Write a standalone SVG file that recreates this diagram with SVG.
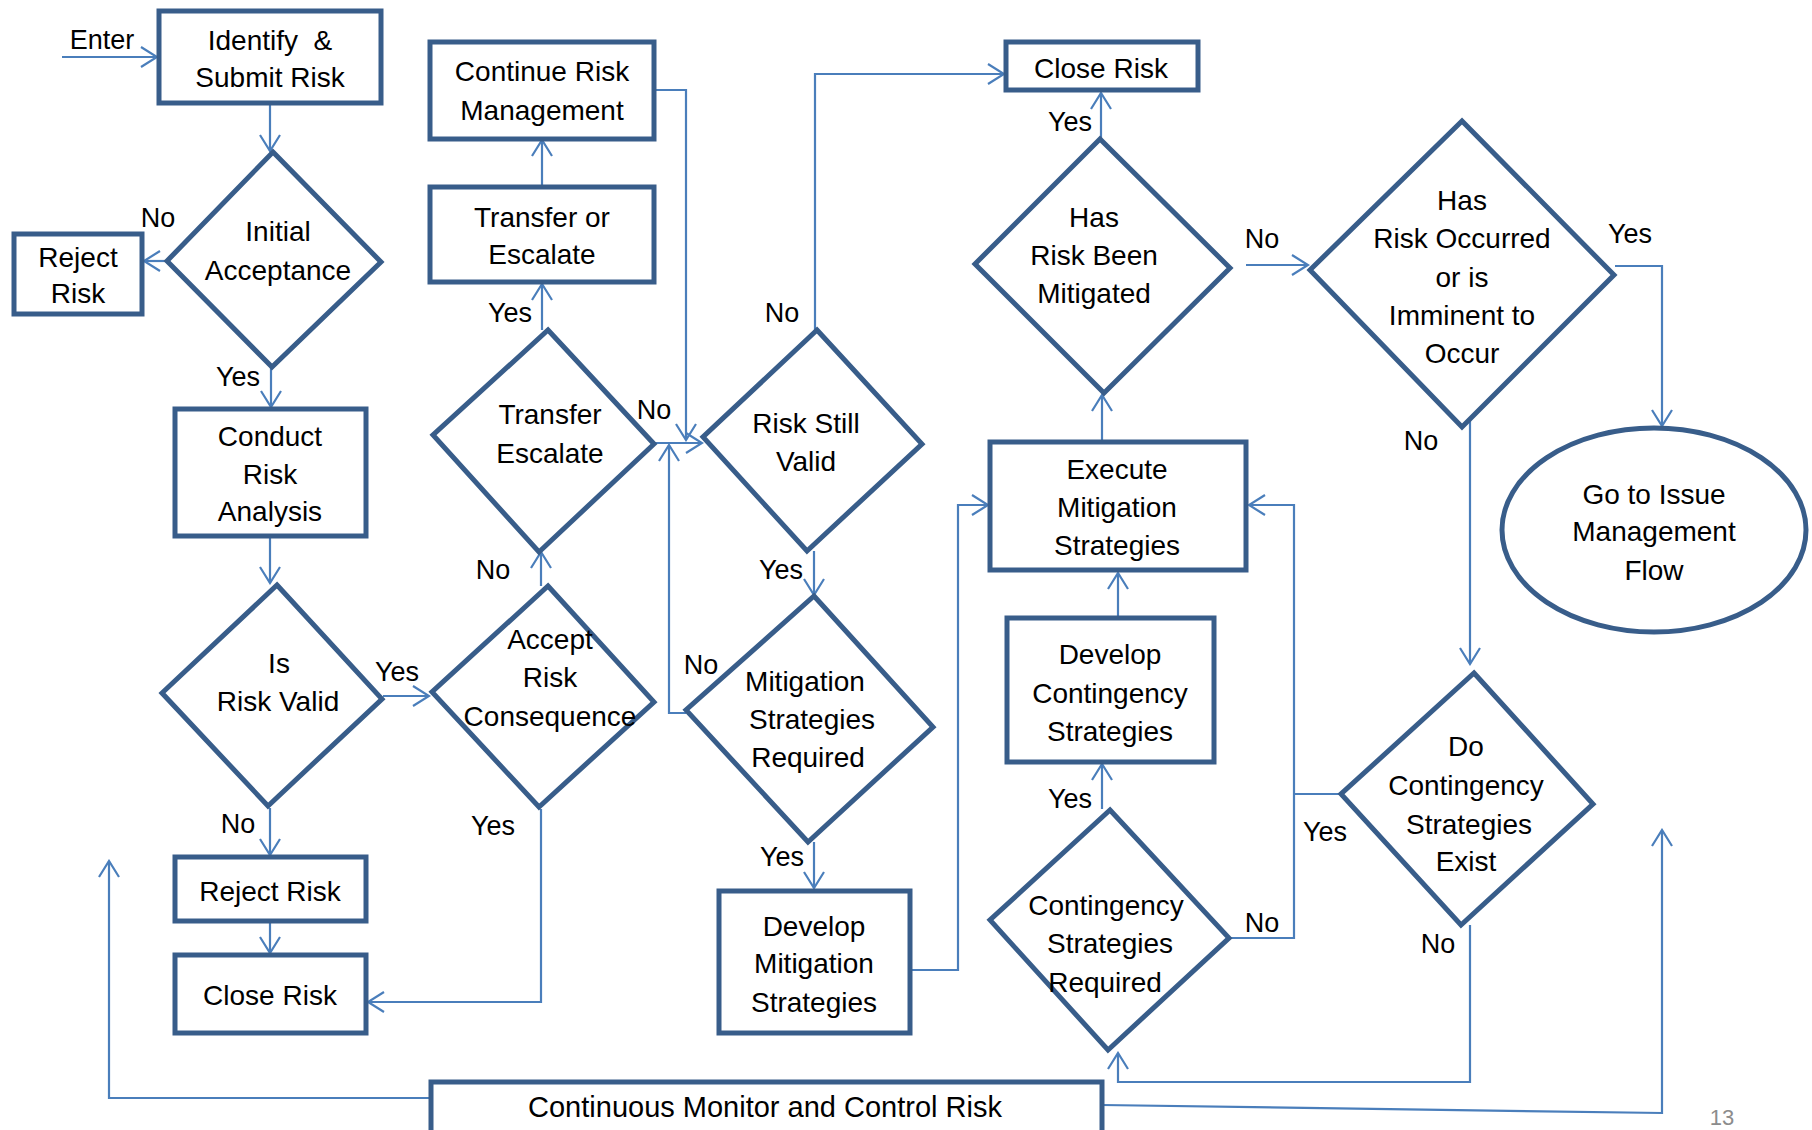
<svg xmlns="http://www.w3.org/2000/svg" width="1812" height="1130" viewBox="0 0 1812 1130">
<style>
.n{fill:#fff;stroke:#385D8A;stroke-width:5;stroke-linejoin:miter}
.t{font-family:"Liberation Sans",Arial,sans-serif;font-size:28px;fill:#000;text-anchor:middle}
.c{fill:none;stroke:#4A7EBB;stroke-width:2.2}
.l{font-family:"Liberation Sans",Arial,sans-serif;font-size:27px;fill:#000;text-anchor:middle}
</style>
<defs>
<marker id="a" viewBox="-18 -12 20 24" refX="0" refY="0" markerWidth="20" markerHeight="24" markerUnits="userSpaceOnUse" orient="auto">
<path d="M-16,-10 L0,0 L-16,10" fill="none" stroke="#4A7EBB" stroke-width="2.2"/>
</marker>
</defs>
<rect width="1812" height="1130" fill="#fff"/>
<g id="connectors">
<path class="c" marker-end="url(#a)" d="M62,57 H157"/>
<path class="c" marker-end="url(#a)" d="M270,105 V151"/>
<path class="c" marker-end="url(#a)" d="M167,261 H144"/>
<path class="c" marker-end="url(#a)" d="M271,368 V407"/>
<path class="c" marker-end="url(#a)" d="M270,537 V583"/>
<path class="c" marker-end="url(#a)" d="M383,696 H429"/>
<path class="c" marker-end="url(#a)" d="M270,808 V855"/>
<path class="c" marker-end="url(#a)" d="M270,922 V953"/>
<path class="c" marker-end="url(#a)" d="M541,809 V1002 H368"/>
<path class="c" marker-end="url(#a)" d="M541,586 V552"/>
<path class="c" marker-end="url(#a)" d="M542,330 V284"/>
<path class="c" marker-end="url(#a)" d="M542,187 V140"/>
<path class="c" marker-end="url(#a)" d="M654,90 H686 V440"/>
<path class="c" marker-end="url(#a)" d="M654,443 H702"/>
<path class="c" marker-end="url(#a)" d="M686,713 H669 V445"/>
<path class="c" marker-end="url(#a)" d="M815,330 V74 H1004"/>
<path class="c" marker-end="url(#a)" d="M814,551 V595"/>
<path class="c" marker-end="url(#a)" d="M814,842 V888"/>
<path class="c" marker-end="url(#a)" d="M910,970 H958 V505 H988"/>
<path class="c" marker-end="url(#a)" d="M1102,442 V395"/>
<path class="c" marker-end="url(#a)" d="M1101,139 V93"/>
<path class="c" marker-end="url(#a)" d="M1246,265 H1308"/>
<path class="c" marker-end="url(#a)" d="M1615,266 H1662 V426"/>
<path class="c" marker-end="url(#a)" d="M1470,420 V664"/>
<path class="c" marker-end="url(#a)" d="M1229,938 H1294 V505 H1249"/>
<path class="c" d="M1341,794 H1294"/>
<path class="c" marker-end="url(#a)" d="M1470,925 V1082 H1118 V1053"/>
<path class="c" marker-end="url(#a)" d="M1118,618 V573"/>
<path class="c" marker-end="url(#a)" d="M1102,809 V764"/>
<path class="c" marker-end="url(#a)" d="M430,1098 H109 V861"/>
<path class="c" marker-end="url(#a)" d="M1102,1105 L1662,1113 V830"/>
</g>
<g id="labels">
<text class="l" x="102" y="49">Enter</text>
<text class="l" x="158" y="227">No</text>
<text class="l" x="238" y="386">Yes</text>
<text class="l" x="238" y="833">No</text>
<text class="l" x="397" y="681">Yes</text>
<text class="l" x="493" y="579">No</text>
<text class="l" x="493" y="835">Yes</text>
<text class="l" x="510" y="322">Yes</text>
<text class="l" x="654" y="419">No</text>
<text class="l" x="782" y="322">No</text>
<text class="l" x="781" y="579">Yes</text>
<text class="l" x="701" y="674">No</text>
<text class="l" x="782" y="866">Yes</text>
<text class="l" x="1070" y="131">Yes</text>
<text class="l" x="1262" y="248">No</text>
<text class="l" x="1630" y="243">Yes</text>
<text class="l" x="1421" y="450">No</text>
<text class="l" x="1325" y="841">Yes</text>
<text class="l" x="1438" y="953">No</text>
<text class="l" x="1070" y="808">Yes</text>
<text class="l" x="1262" y="932">No</text>
</g>
<g id="identify"><rect class="n" x="159" y="11" width="222" height="92"/><text class="t" x="270" y="50" xml:space="preserve">Identify  &amp;</text><text class="t" x="270" y="87">Submit Risk</text></g>
<g id="initial"><polygon class="n" points="273,152 381,262 272,367 167,261"/><text class="t" x="278" y="241">Initial</text><text class="t" x="278" y="280">Acceptance</text></g>
<g id="reject1"><rect class="n" x="14" y="234" width="128" height="80"/><text class="t" x="78" y="267">Reject</text><text class="t" x="78" y="303">Risk</text></g>
<g id="conduct"><rect class="n" x="175" y="409" width="191" height="127"/><text class="t" x="270" y="446">Conduct</text><text class="t" x="270" y="484">Risk</text><text class="t" x="270" y="521">Analysis</text></g>
<g id="isvalid"><polygon class="n" points="277,585 382,699 268,806 162,693"/><text class="t" x="279" y="673">Is</text><text class="t" x="278" y="711">Risk Valid</text></g>
<g id="accept"><polygon class="n" points="548,586 654,702 539,807 432,692"/><text class="t" x="550" y="649">Accept</text><text class="t" x="550" y="687">Risk</text><text class="t" x="550" y="726">Consequence</text></g>
<g id="reject2"><rect class="n" x="175" y="857" width="191" height="64"/><text class="t" x="270" y="901">Reject Risk</text></g>
<g id="close2"><rect class="n" x="175" y="955" width="191" height="78"/><text class="t" x="270" y="1005">Close Risk</text></g>
<g id="transferq"><polygon class="n" points="548,330 654,444 539,552 433,435"/><text class="t" x="550" y="424">Transfer</text><text class="t" x="550" y="463">Escalate</text></g>
<g id="transfer"><rect class="n" x="430" y="187" width="224" height="95"/><text class="t" x="542" y="227">Transfer or</text><text class="t" x="542" y="264">Escalate</text></g>
<g id="continue"><rect class="n" x="430" y="42" width="224" height="97"/><text class="t" x="542" y="81">Continue Risk</text><text class="t" x="542" y="120">Management</text></g>
<g id="stillvalid"><polygon class="n" points="817,330 922,444 807,551 703,437"/><text class="t" x="806" y="433">Risk Still</text><text class="t" x="806" y="471">Valid</text></g>
<g id="close1"><rect class="n" x="1006" y="42" width="192" height="48"/><text class="t" x="1101" y="78">Close Risk</text></g>
<g id="mitreq"><polygon class="n" points="814,596 933,727 808,842 686,710"/><text class="t" x="805" y="691">Mitigation</text><text class="t" x="812" y="729">Strategies</text><text class="t" x="808" y="767">Required</text></g>
<g id="devmit"><rect class="n" x="719" y="891" width="191" height="142"/><text class="t" x="814" y="936">Develop</text><text class="t" x="814" y="973">Mitigation</text><text class="t" x="814" y="1012">Strategies</text></g>
<g id="execute"><rect class="n" x="990" y="442" width="256" height="128"/><text class="t" x="1117" y="479">Execute</text><text class="t" x="1117" y="517">Mitigation</text><text class="t" x="1117" y="555">Strategies</text></g>
<g id="mitigated"><polygon class="n" points="1100,139 1230,268 1104,393 975,264"/><text class="t" x="1094" y="227">Has</text><text class="t" x="1094" y="265">Risk Been</text><text class="t" x="1094" y="303">Mitigated</text></g>
<g id="occurred"><polygon class="n" points="1462,121 1614,275 1462,427 1310,270"/><text class="t" x="1462" y="210">Has</text><text class="t" x="1462" y="248">Risk Occurred</text><text class="t" x="1462" y="287">or is</text><text class="t" x="1462" y="325">Imminent to</text><text class="t" x="1462" y="363">Occur</text></g>
<g id="issue"><ellipse class="n" cx="1654" cy="530" rx="152" ry="102"/><text class="t" x="1654" y="504">Go to Issue</text><text class="t" x="1654" y="541">Management</text><text class="t" x="1654" y="580">Flow</text></g>
<g id="doexist"><polygon class="n" points="1474,673 1593,804 1461,925 1341,794"/><text class="t" x="1466" y="756">Do</text><text class="t" x="1466" y="795">Contingency</text><text class="t" x="1469" y="834">Strategies</text><text class="t" x="1466" y="871">Exist</text></g>
<g id="devcont"><rect class="n" x="1007" y="618" width="207" height="144"/><text class="t" x="1110" y="664">Develop</text><text class="t" x="1110" y="703">Contingency</text><text class="t" x="1110" y="741">Strategies</text></g>
<g id="contreq"><polygon class="n" points="1110,810 1229,938 1108,1050 990,920"/><text class="t" x="1106" y="915">Contingency</text><text class="t" x="1110" y="953">Strategies</text><text class="t" x="1105" y="992">Required</text></g>
<g id="monitor"><rect class="n" x="431" y="1082" width="671" height="60"/><text class="t" x="765" y="1117" style="font-size:29px">Continuous Monitor and Control Risk</text></g>
<text x="1722" y="1125" style="font-family:'Liberation Sans',Arial,sans-serif;font-size:22px;fill:#8c8c8c;text-anchor:middle">13</text>
</svg>
